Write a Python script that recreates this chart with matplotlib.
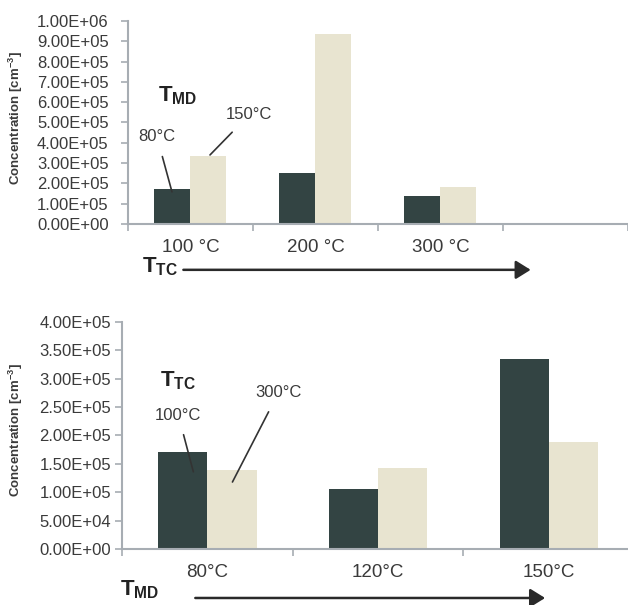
import numpy as np
import matplotlib
matplotlib.use("Agg")
import matplotlib.pyplot as plt
from matplotlib.ticker import FixedLocator, FuncFormatter
from matplotlib.patches import FancyArrowPatch

plt.rcParams['font.family'] = ['Liberation Sans', 'DejaVu Sans']
plt.rcParams['mathtext.fontset'] = 'custom'
plt.rcParams['mathtext.rm'] = 'Liberation Sans'
plt.rcParams['mathtext.bf'] = 'Liberation Sans:bold'

# top panel: grouped by T_TC, series = T_MD
top_cats = ['100 °C', '200 °C', '300 °C', '']
top_80 = [1.70e5, 2.52e5, 1.38e5, np.nan]
top_150 = [3.35e5, 9.36e5, 1.83e5, np.nan]
top_yticks = np.arange(0, 1.0e6 + 1, 1.0e5)

# bottom panel: grouped by T_MD, series = T_TC
bot_cats = ['80°C', '120°C', '150°C']
bot_100 = [1.71e5, 1.06e5, 3.35e5]
bot_300 = [1.39e5, 1.43e5, 1.88e5]
bot_yticks = np.arange(0, 4.0e5 + 1, 5.0e4)

dark = '#334443'
light = '#e8e4d0'
spine_col = '#a7adb3'
txt_col = '#3a3a3a'

fig = plt.figure(figsize=(6.28, 6.05), dpi=100)


def sci(v, pos=None):
    if v <= 0:
        return '0.00E+00'
    e = int(np.floor(np.log10(v)))
    return '%.2fE%+03d' % (v / 10 ** e, e)


def setup(ax, cats, yticks, ypad):
    n = len(cats)
    ax.set_xlim(-0.5, n - 0.5)
    ax.set_ylim(0, yticks[-1])
    ax.set_yticks(yticks)
    ax.yaxis.set_major_formatter(FuncFormatter(sci))
    ax.set_xticks(range(n))
    ax.set_xticklabels(cats, fontsize=13.5, color=txt_col)
    ax.xaxis.set_minor_locator(FixedLocator(np.arange(-0.5, n, 1.0)))
    ax.tick_params(axis='x', which='major', length=0, pad=11)
    ax.tick_params(axis='x', which='minor', length=5, color=spine_col, width=1.2)
    ax.tick_params(axis='y', length=5, color=spine_col, width=1.2, pad=ypad,
                   labelsize=12, labelcolor=txt_col)
    for s in ['top', 'right']:
        ax.spines[s].set_visible(False)
    for s in ['left', 'bottom']:
        ax.spines[s].set_color(spine_col)
        ax.spines[s].set_linewidth(1.5)
    ax.set_facecolor('none')


def callout(ax, label, target, textpos):
    ax.annotate(label, xy=target, xytext=textpos, fontsize=12,
                ha='center', va='center', color=txt_col,
                arrowprops=dict(arrowstyle='-', color='#333333', lw=1.2, shrinkA=7, shrinkB=0))


w = 0.288

# ---- top panel
ax1 = fig.add_axes([0.2038, 0.6298, 0.7962, 0.3355])
x = np.arange(len(top_cats))
ax1.bar(x - w / 2, top_80, w, color=dark)
ax1.bar(x + w / 2, top_150, w, color=light)
setup(ax1, top_cats, top_yticks, 9)

ax1.text(-0.1, 6.3e5, r'$\mathbf{T_{MD}}$', fontsize=16, ha='center', va='center', color='#222222')
callout(ax1, '80°C', (-0.148, 1.58e5), (-0.268, 4.29e5))
callout(ax1, '150°C', (0.156, 3.40e5), (0.468, 5.37e5))

# ---- bottom panel
ax2 = fig.add_axes([0.1943, 0.0926, 0.8153, 0.3752])
x = np.arange(len(bot_cats))
ax2.bar(x - w / 2, bot_100, w, color=dark)
ax2.bar(x + w / 2, bot_300, w, color=light)
setup(ax2, bot_cats, bot_yticks, 3)

ax2.text(-0.17, 2.96e5, r'$\mathbf{T_{TC}}$', fontsize=16, ha='center', va='center', color='#222222')
callout(ax2, '100°C', (-0.082, 1.36e5), (-0.17, 2.36e5))
callout(ax2, '300°C', (0.147, 1.18e5), (0.416, 2.75e5))

# y labels
for yc in [0.805, 0.289]:
    fig.text(0.026, yc, r'Concentration [cm$^{\mathbf{-3}}$]', rotation=90, fontsize=9.5,
             fontweight='bold', ha='center', va='center', color=txt_col)

# axis-name labels with arrows
fig.text(0.255, 0.560, r'$\mathbf{T_{TC}}$', fontsize=16, ha='center', va='center', color='#222222')
fig.text(0.223, 0.026, r'$\mathbf{T_{MD}}$', fontsize=16, ha='center', va='center', color='#222222')
arrow = dict(arrowstyle='-|>,head_length=0.45,head_width=0.28', mutation_scale=20,
             color='#2a2a2a', lw=1.8, shrinkA=0, shrinkB=0)
fig.add_artist(FancyArrowPatch((0.292, 0.554), (0.845, 0.554), transform=fig.transFigure, **arrow))
fig.add_artist(FancyArrowPatch((0.311, 0.0116), (0.868, 0.0116), transform=fig.transFigure, **arrow))

fig.savefig('out.png', dpi=100, facecolor='white')
